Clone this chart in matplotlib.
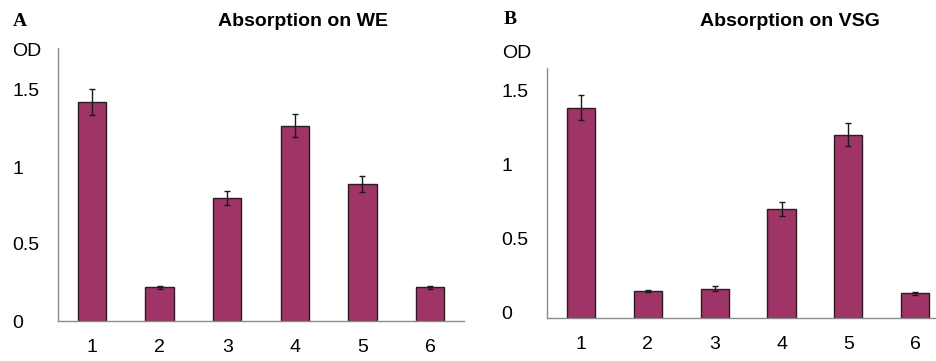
import matplotlib
matplotlib.use("Agg")
import matplotlib.pyplot as plt
import matplotlib.transforms as mtransforms

# samples 1..6
categories = ["1", "2", "3", "4", "5", "6"]

# panel A: absorption on WE
we_values = [1.42, 0.219, 0.80, 1.268, 0.89, 0.219]
we_errors = [0.085, 0.01, 0.045, 0.075, 0.054, 0.01]

# panel B: absorption on VSG
vsg_values = [1.423, 0.187, 0.20, 0.739, 1.239, 0.169]
vsg_errors = [0.085, 0.006, 0.015, 0.05, 0.078, 0.01]

yticks = [0, 0.5, 1, 1.5]
yticklabels = ["0", "0.5", "1", "1.5"]

W, H = 936, 361
fig = plt.figure(figsize=(W / 100, H / 100), dpi=100)

bar_color = "#9e3566"
edge_color = "#2e1b24"
axis_color = "#8c8c8c"
fs = 14


def panel(rect, values, errors, ytop, label_shift):
    x0, y0, w, h = rect
    ax = fig.add_axes([x0 / W, y0 / H, w / W, h / H])
    xs = list(range(1, len(categories) + 1))
    ax.bar(xs, values, width=0.42, color=bar_color, edgecolor=edge_color,
           linewidth=1.0, yerr=errors, capsize=2.5,
           error_kw=dict(ecolor="#1a1a1a", elinewidth=1.0, capthick=1.0))
    ax.set_xlim(0.5, 6.5)
    ax.set_ylim(0, ytop)
    for s in ["top", "right"]:
        ax.spines[s].set_visible(False)
    for s in ["left", "bottom"]:
        ax.spines[s].set_color(axis_color)
        ax.spines[s].set_linewidth(1.0)
    ax.set_xticks(xs)
    ax.set_xticklabels(categories, fontsize=fs, family="Liberation Sans")
    ax.set_yticks(yticks)
    ax.set_yticklabels(yticklabels, fontsize=fs, family="Liberation Sans",
                       ha="left")
    ax.tick_params(axis="x", length=0, pad=13)
    ax.tick_params(axis="y", length=0, pad=33)
    if label_shift:
        off = mtransforms.ScaledTranslation(0, label_shift / 100,
                                            fig.dpi_scale_trans)
        for lab in ax.get_yticklabels():
            lab.set_transform(lab.get_transform() + off)
    return ax


panel((58, 40, 406, 273), we_values, we_errors, 273 / 154, 0)
panel((547.3, 42.7, 401.5, 250), vsg_values, vsg_errors, 250 / 148, 6)

fig.text(13 / W, 1 - 21 / H, "A", family="Liberation Serif", weight="bold",
         fontsize=fs, ha="left", va="center")
fig.text(504 / W, 1 - 20 / H, "B", family="Liberation Serif", weight="bold",
         fontsize=fs, ha="left", va="center")
fig.text(303 / W, 1 - 21 / H, "Absorption on WE", family="Liberation Sans",
         weight="bold", fontsize=fs, ha="center", va="center")
fig.text(790 / W, 1 - 21 / H, "Absorption on VSG", family="Liberation Sans",
         weight="bold", fontsize=fs, ha="center", va="center")
fig.text(12 / W, 1 - 51 / H, "OD", family="Liberation Sans", fontsize=fs,
         ha="left", va="center")
fig.text(502 / W, 1 - 53 / H, "OD", family="Liberation Sans", fontsize=fs,
         ha="left", va="center")

fig.savefig("out.png", dpi=100)
